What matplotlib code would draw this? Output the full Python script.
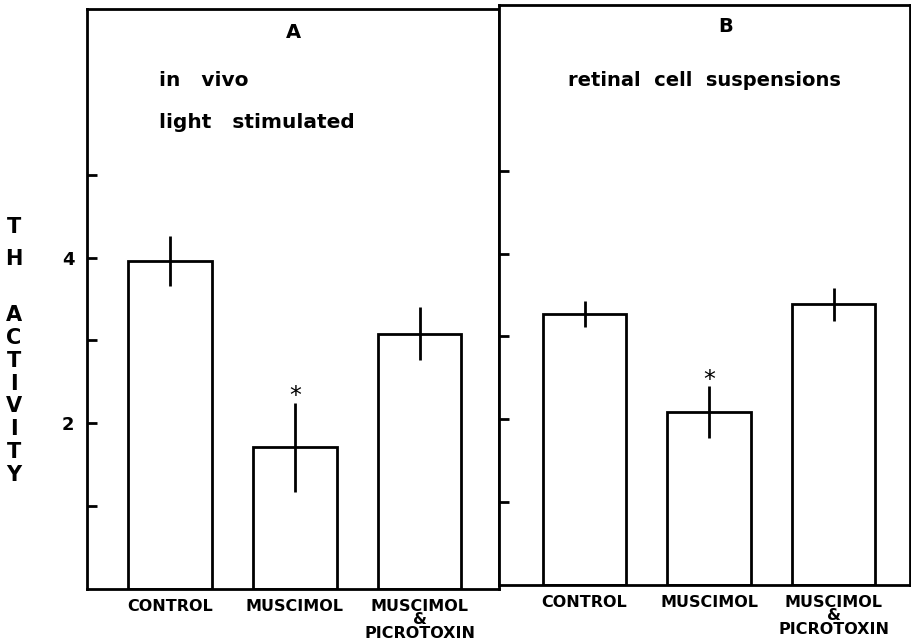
import matplotlib
matplotlib.use("Agg")
import matplotlib.pyplot as plt

# TH activity per treatment group
groups = ["CONTROL", "MUSCIMOL", "MUSCIMOL\n&\nPICROTOXIN"]
in_vivo_mean = [3.96, 1.71, 3.08]
in_vivo_err = [0.30, 0.54, 0.32]
suspension_mean = [3.27, 2.09, 3.39]
suspension_err = [0.16, 0.31, 0.20]
significant = [False, True, False]

plt.rcParams['font.family'] = ['DejaVu Sans']
plt.rcParams['font.weight'] = 'bold'

fig = plt.figure(figsize=(9.12, 6.44), dpi=100)
W, H = 912.0, 644.0


def px(x, y):
    # pixel position (from top-left) to figure fraction
    return x / W, 1 - y / H


# panel boxes in pixel coordinates: left, top, right, bottom
ax_a = fig.add_axes([87 / W, 1 - 589 / H, (499 - 87) / W, (589 - 9) / H])
ax_b = fig.add_axes([499 / W, 1 - 585 / H, (910 - 499) / W, (585 - 5) / H])

LW = 2.0


def draw_panel(ax, means, errs, xlim):
    x = list(range(len(means)))
    ax.bar(x, means, width=0.67, facecolor='white', edgecolor='black',
           linewidth=LW, zorder=2)
    ax.errorbar(x, means, yerr=errs, fmt='none', ecolor='black',
                elinewidth=LW, capsize=0, zorder=3)
    for xi, m, e, sig in zip(x, means, errs, significant):
        if sig:
            ax.annotate('*', (xi, m + e), xytext=(0, -4), textcoords='offset points',
                        ha='center', va='bottom', fontsize=17, fontweight='normal')
    ax.set_xlim(*xlim)
    ax.set_ylim(0, 7)
    ax.set_xticks(x)
    ax.set_xticklabels(groups, fontsize=11.5, fontweight='bold', linespacing=0.88,
                       va='top')
    ax.tick_params(axis='x', length=0, pad=7)
    ax.set_yticks([1, 2, 3, 4, 5])
    ax.tick_params(axis='y', direction='in', length=7, width=LW, pad=9,
                   labelsize=13)
    for sp in ax.spines.values():
        sp.set_linewidth(LW)


draw_panel(ax_a, in_vivo_mean, in_vivo_err, (-0.664, 2.636))
ax_a.set_yticklabels(['', '2', '', '4', ''], fontweight='bold')

draw_panel(ax_b, suspension_mean, suspension_err, (-0.687, 2.614))
ax_b.set_yticklabels([])

# panel headings
fig.text(*px(293, 32), 'A', fontsize=14, fontweight='bold', ha='center', va='center')
fig.text(*px(159, 80), 'in   vivo', fontsize=14.5, fontweight='bold', ha='left', va='center')
fig.text(*px(159, 122), 'light   stimulated', fontsize=14.5, fontweight='bold',
         ha='left', va='center')
fig.text(*px(726, 27), 'B', fontsize=14, fontweight='bold', ha='center', va='center')
fig.text(*px(568, 80), 'retinal  cell  suspensions', fontsize=14, fontweight='bold',
         ha='left', va='center')

# stacked vertical axis label
fig.text(*px(14, 243), '\n'.join('TH'), fontsize=15, fontweight='bold',
         ha='center', va='center', linespacing=1.73)
fig.text(*px(14, 395), '\n'.join('ACTIVITY'), fontsize=15, fontweight='bold',
         ha='center', va='center', linespacing=1.17)

fig.savefig('out.png', dpi=100)
